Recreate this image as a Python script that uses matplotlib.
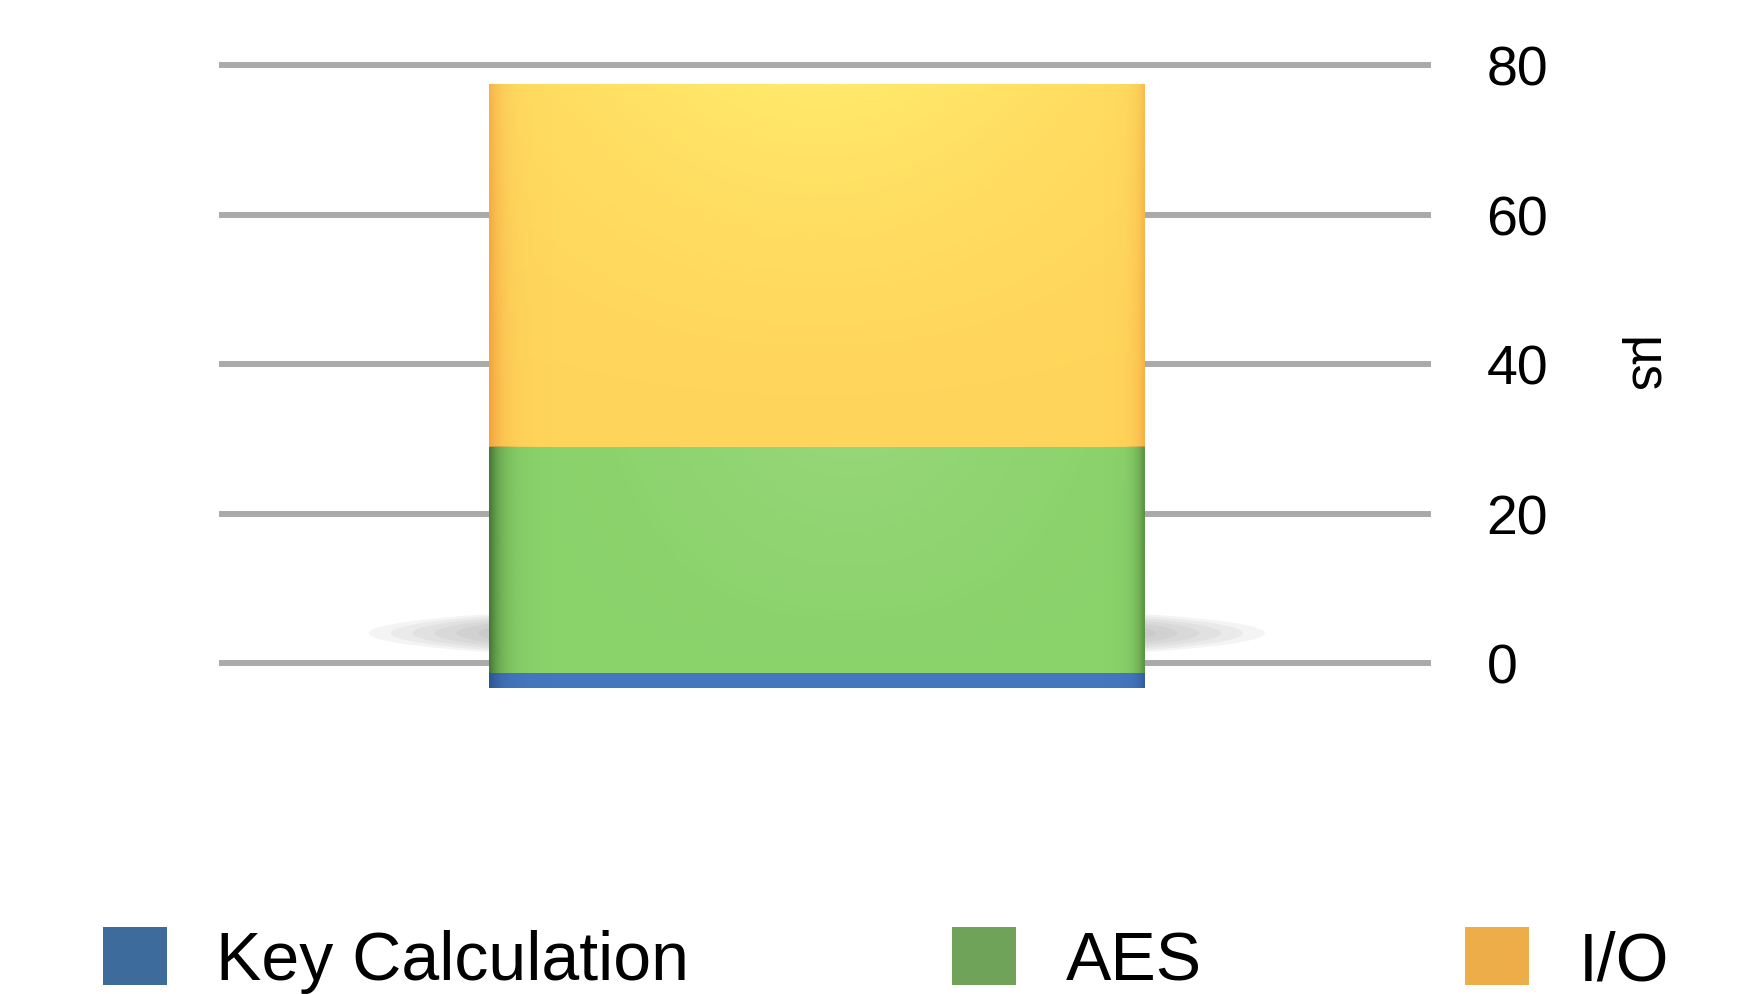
import numpy as np
import matplotlib
matplotlib.use('Agg')
import matplotlib.pyplot as plt
from matplotlib.patches import Ellipse, Patch
from matplotlib.colors import to_rgb

# Data (microseconds)
categories = ["Key Calculation", "AES", "I/O"]
values = [1.9, 30.3, 48.5]
ticks = [0, 20, 40, 60, 80]

bar_colors = ["#4577bf", "#8ad26a", "#ffd45a"]
edge_colors = ["#2a4f8a", "#3c6a2c", "#f29a3a"]
legend_colors = ["#3d6b9c", "#6fa35a", "#edae4a"]

plt.rcParams['font.family'] = ['Liberation Sans', 'DejaVu Sans']

W, H = 1743, 995
fig = plt.figure(figsize=(W / 100, H / 100), dpi=100)

# axes box in pixels: x 219..1431, y 30..700 (from top)
px_per_unit = 7.475
zero_px = 664
top_px, bot_px = 30, 700
ylim = ((zero_px - bot_px) / px_per_unit, (zero_px - top_px) / px_per_unit)
xlim = (-0.547, 0.562)
ax = fig.add_axes([219 / W, (H - bot_px) / H, (1431 - 219) / W, (bot_px - top_px) / H])

bar_w = 0.6

# gridlines
for t in ticks:
    ax.axhline(t, color="#aaaaaa", lw=4.3, zorder=1, solid_capstyle='butt')

# soft shadow under the bar
n = 20
for k in range(n):
    f = 1 - k / n
    ax.add_patch(Ellipse((0, 4.0), 0.80 * f + 0.02, 7.2 * f + 0.3,
                         color="#707070", alpha=0.07, lw=0, zorder=2))

# front face of the 3D bar sits a little below the 0 line
base = -3.3
bottom = base
nx, ny = 300, 100
xs = np.linspace(0, 1, nx)
edge_alpha = 0.85 * np.exp(-xs / 0.018) + 0.6 * np.exp(-(1 - xs) / 0.012)
edge_alpha = np.clip(edge_alpha, 0, 1)
for i, (v, c) in enumerate(zip(values, bar_colors)):
    ax.bar(0, v, bottom=bottom, width=bar_w, color=c, lw=0, zorder=3)
    # darker edges, in the segment's own hue
    img = np.zeros((ny, nx, 4))
    img[..., :3] = to_rgb(edge_colors[i])
    img[..., 3] = edge_alpha[None, :]
    ax.imshow(img, extent=(-bar_w / 2, bar_w / 2, bottom, bottom + v), aspect='auto',
              zorder=4, interpolation='bilinear')
    bottom += v

# top segment gets brighter toward the top
top_start = bottom - values[-1]
hl = np.zeros((ny, nx, 4))
hl[..., :3] = to_rgb("#fff070")
yy = np.linspace(1, 0, ny)[:, None]
hl[..., 3] = 0.75 * yy ** 1.5 * np.exp(-((xs[None, :] - 0.5) / 0.45) ** 2)
ax.imshow(hl, extent=(-bar_w / 2, bar_w / 2, top_start, bottom), aspect='auto',
          zorder=5, interpolation='bilinear')

# light sheen in the middle of the green part
hl2 = np.zeros((ny, nx, 4))
hl2[..., :3] = 1.0
hl2[..., 3] = 0.10 * yy * np.exp(-((xs[None, :] - 0.55) / 0.3) ** 2)
ax.imshow(hl2, extent=(-bar_w / 2, bar_w / 2, base + values[0], top_start), aspect='auto',
          zorder=5, interpolation='bilinear')

ax.set_ylim(*ylim)
ax.set_xlim(*xlim)

for s in ax.spines.values():
    s.set_visible(False)
ax.set_xticks([])
ax.yaxis.tick_right()
ax.set_yticks(ticks)
ax.tick_params(axis='y', length=0, pad=40, labelsize=40)
ax.yaxis.set_label_position('right')
ax.set_ylabel("µs", rotation=270, fontsize=38)
ax.yaxis.set_label_coords(1.195, 0.5)

handles = [Patch(facecolor=c, edgecolor='none') for c in legend_colors]
fig.legend(handles, categories, loc='center left', bbox_to_anchor=(103 / W, 34 / H),
           ncol=3, frameon=False, fontsize=49, handlelength=0.934, handleheight=0.934,
           handletextpad=0.73, columnspacing=3.87, borderpad=0, borderaxespad=0)

fig.savefig("out.png", dpi=100)
